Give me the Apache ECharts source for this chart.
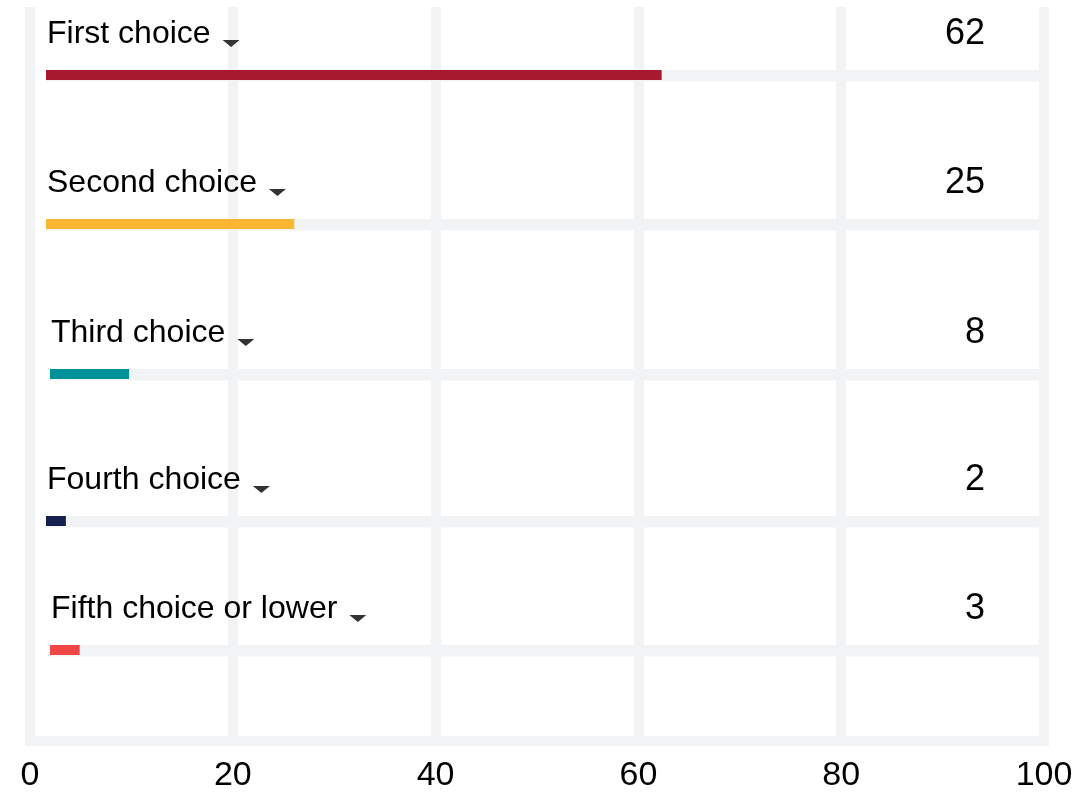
<!DOCTYPE html>
<html>
<head>
<meta charset="utf-8">
<script src="https://cdn.jsdelivr.net/npm/echarts@6/dist/echarts.min.js"></script>
<style>
html,body{margin:0;padding:0;background:#fff;}
#chart{width:1091px;height:793px;}
</style>
</head>
<body>
<div id="chart"></div>
<script>
// ---- data ----
const categories = ['First choice', 'Second choice', 'Third choice', 'Fourth choice', 'Fifth choice or lower'];
const values = [62, 25, 8, 2, 3];
const xTicks = [0, 20, 40, 60, 80, 100];

// ---- styles / layout ----
const barColors = ['#a6192e', '#fbb731', '#00929a', '#13204d', '#f04646'];
const gridColor = '#f2f3f5';
const rowTops = [70, 219, 369, 516, 645];
const rowLefts = [46, 46, 50, 46, 50];
const FONT = '"Liberation Sans", Arial, sans-serif';

const xMin = xTicks[0];
const xMax = xTicks[xTicks.length - 1];
const xStep = xTicks[1] - xTicks[0];

const arrowSvg = 'data:image/svg+xml;charset=utf-8,' + encodeURIComponent(
  '<svg xmlns="http://www.w3.org/2000/svg" width="29" height="10" viewBox="0 0 29 10">' +
  '<polygon points="12,0 29,0 20.5,7" fill="#333333"/></svg>'
);

const grids = [{ left: 30, right: 47, top: 7, bottom: 50, containLabel: false }];
const xAxes = [{
  gridIndex: 0, type: 'value', min: xMin, max: xMax, interval: xStep,
  axisLine: { show: true, onZero: false, lineStyle: { color: gridColor, width: 10, cap: 'square' } },
  axisTick: { show: false },
  splitLine: { show: true, lineStyle: { color: gridColor, width: 10 } },
  axisLabel: { color: '#000', fontSize: 34, fontFamily: FONT, margin: 18,
    formatter: function (v) { return String(v); } }
}];
const yAxes = [{ gridIndex: 0, type: 'value', show: false, min: 0, max: 1 }];
const series = [];

categories.forEach(function (cat, i) {
  const gi = i + 1;
  grids.push({ left: rowLefts[i], right: 52, top: rowTops[i] - 1.5, height: 13, containLabel: false });
  xAxes.push({ gridIndex: gi, type: 'value', min: xMin, max: xMax, show: false });
  yAxes.push({ gridIndex: gi, type: 'category', data: [cat], show: false });
  // background track
  series.push({
    type: 'bar', xAxisIndex: gi, yAxisIndex: gi, data: [xMax], barWidth: 13, barGap: '-100%',
    silent: true, itemStyle: { color: gridColor }, z: 2,
    label: {
      show: true, position: ['100%', -36], offset: [-54, 0], align: 'right', verticalAlign: 'middle',
      formatter: String(values[i]), color: '#000', fontSize: 36, fontFamily: FONT
    }
  });
  // value bar
  series.push({
    type: 'bar', xAxisIndex: gi, yAxisIndex: gi, data: [values[i]], barWidth: 10, barGap: '-100%',
    silent: true, itemStyle: { color: barColors[i] }, z: 3,
    label: {
      show: true, position: [1, -36], align: 'left', verticalAlign: 'middle',
      formatter: '{t|' + cat + '}{arr|}',
      rich: {
        t: { color: '#000', fontSize: 32, fontFamily: FONT },
        arr: { width: 29, height: 10, verticalAlign: 'bottom', backgroundColor: { image: arrowSvg } }
      }
    }
  });
});

const chart = echarts.init(document.getElementById('chart'), null, { renderer: 'canvas' });
chart.setOption({
  animation: false,
  backgroundColor: '#ffffff',
  grid: grids,
  xAxis: xAxes,
  yAxis: yAxes,
  series: series
});
</script>
</body>
</html>
